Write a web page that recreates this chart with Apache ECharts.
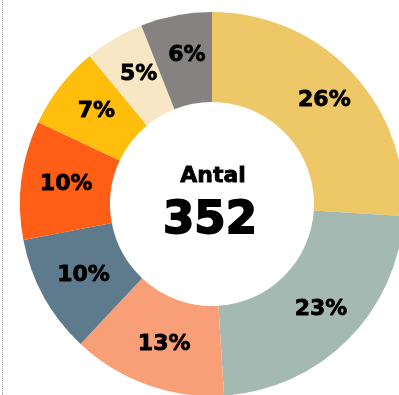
<!DOCTYPE html>
<html>
<head>
<meta charset="utf-8">
<script src="https://cdn.jsdelivr.net/npm/echarts@6/dist/echarts.min.js"></script>
<style>html,body{margin:0;padding:0;background:#fff;}#c{width:399px;height:395px;}</style>
</head>
<body>
<div id="c"></div>
<script>
const categories = ['A', 'B', 'C', 'D', 'E', 'F', 'G', 'H'];
const values = [26, 23, 13, 10, 10, 7, 5, 6];
const colors = ['#EEC766', '#A4B9B2', '#F99F77', '#5E7B8E', '#FF5E17', '#FFBE0B', '#F7E7C4', '#858281'];
const centerTitle = 'Antal';
const centerValue = '352';

const chart = echarts.init(document.getElementById('c'), null, {renderer: 'canvas'});
chart.setOption({
  animation: false,
  backgroundColor: '#fff',
  graphic: [
    {type: 'line', shape: {x1: 2.5, y1: 0, x2: 2.5, y2: 395}, style: {stroke: '#9a9a9a', lineWidth: 1, lineDash: [1, 1]}},
    {type: 'text', z: 10, style: {text: centerTitle, x: 213, y: 176, textAlign: 'center', textVerticalAlign: 'middle',
      font: 'bold 22px "DejaVu Sans"', fill: '#000', stroke: '#000', lineWidth: 0.8}},
    {type: 'text', z: 10, style: {text: centerValue, x: 210, y: 221, textAlign: 'center', textVerticalAlign: 'middle',
      font: 'bold 45px "DejaVu Sans"', fill: '#000', stroke: '#000', lineWidth: 1.8}}
  ],
  series: [{
    type: 'pie',
    center: [212, 204],
    radius: [102, 192],
    startAngle: 90,
    clockwise: true,
    silent: true,
    data: categories.map((n, i) => ({name: n, value: values[i], itemStyle: {color: colors[i]}})),
    label: {
      show: true,
      position: 'inside',
      formatter: '{c}%',
      color: '#000',
      fontFamily: 'DejaVu Sans',
      fontWeight: 'bold',
      fontSize: 22,
      textBorderColor: '#000',
      textBorderWidth: 0.8,
      offset: [3, -1]
    },
    labelLine: {show: false}
  }]
});
</script>
</body>
</html>
